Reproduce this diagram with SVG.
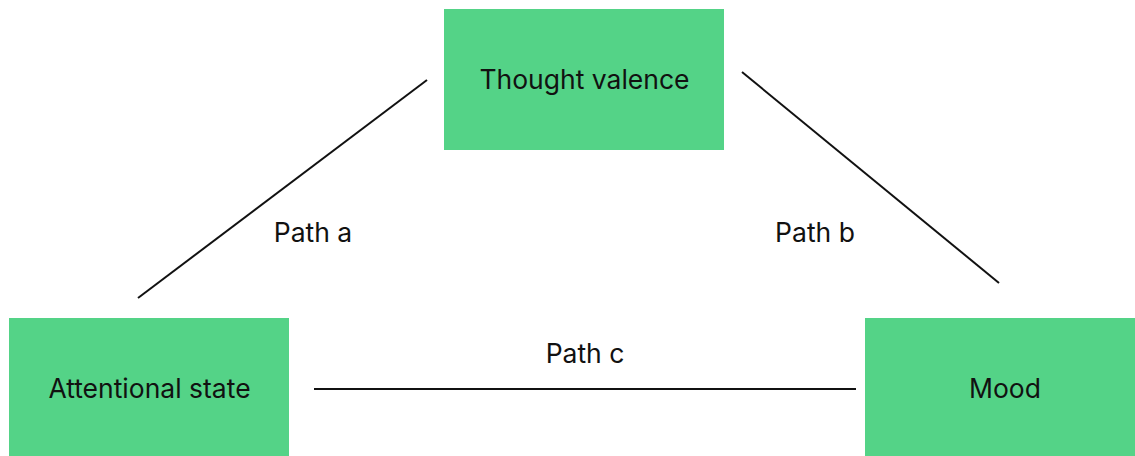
<svg xmlns="http://www.w3.org/2000/svg" width="1135" height="456" viewBox="0 0 1135 456">
<style>
.box{fill:#54d387;}
.lbl{font-family:Inter,"Liberation Sans",sans-serif;font-size:26.5px;fill:#111;text-anchor:middle;}
.edge{stroke:#111;stroke-width:2;fill:none;}
</style>
<rect width="1135" height="456" fill="#fff"/>
<g id="connectors">
<line class="edge" x1="138" y1="298" x2="427" y2="80"/>
<line class="edge" x1="742" y1="72" x2="999" y2="283"/>
<line class="edge" x1="314" y1="389" x2="856" y2="389"/>
<text class="lbl" x="313" y="242">Path a</text>
<text class="lbl" x="815" y="242">Path b</text>
<text class="lbl" x="585" y="363">Path c</text>
</g>
<g id="thought-valence">
<rect class="box" x="444" y="9" width="280" height="141"/>
<text class="lbl" x="584.5" y="89">Thought valence</text>
</g>
<g id="attentional-state">
<rect class="box" x="9" y="318" width="280" height="140"/>
<text class="lbl" x="149.5" y="398">Attentional state</text>
</g>
<g id="mood">
<rect class="box" x="865" y="318" width="280" height="140"/>
<text class="lbl" x="1005" y="398">Mood</text>
</g>
</svg>
